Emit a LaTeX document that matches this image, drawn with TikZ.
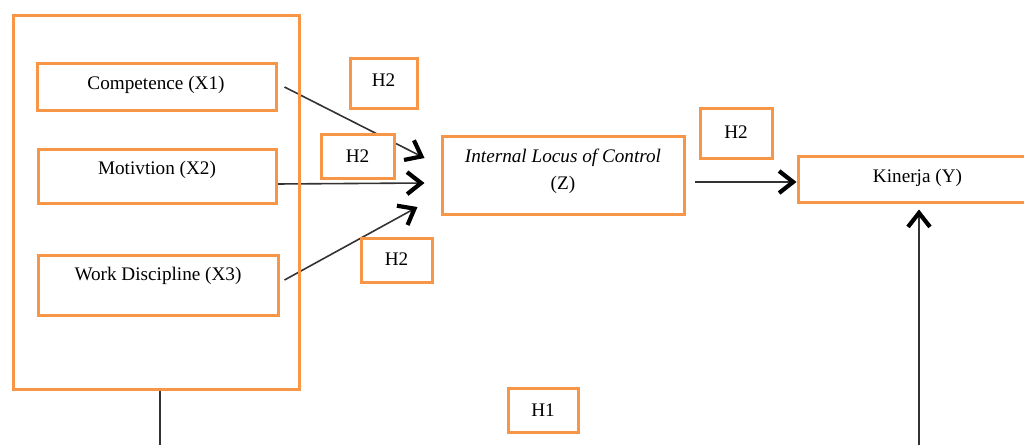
\documentclass[tikz,border=0pt]{standalone}
\usepackage{fontspec}
\setmainfont{Liberation Serif}
\usetikzlibrary{arrows.meta,calc}
\definecolor{boxorange}{HTML}{F79646}
\definecolor{linegray}{HTML}{333333}
\pgfdeclarelayer{bg}
\pgfsetlayers{bg,main}
\tikzset{
  obox/.style={draw=boxorange, line width=1.5pt, fill=white, inner sep=0pt},
  bigbox/.style={draw=boxorange, line width=1.5pt, inner sep=0pt},
  txt/.style={inner sep=0pt, font=\fontsize{9.6}{13.5}\selectfont, align=center},
  conn/.style={draw=linegray, line width=0.8pt,
    -{Straight Barb[length=7pt,width=11pt,line width=2.1pt,color=black]}},
  plain/.style={draw=linegray, line width=0.8pt}
}
\begin{document}
\begin{tikzpicture}[x=0.5pt,y=-0.5pt]
\useasboundingbox (0,0) rectangle (1024,445);
% boxes
\node[bigbox, minimum width=143pt, minimum height=187pt] (big) at (156,202) {};
\node[obox, minimum width=119.5pt, minimum height=23.5pt] (x1) at (156.5,86.5) {};
\node[txt] (x1t) at (156,85) {Competence (X1)};
\node[obox, minimum width=119pt, minimum height=27pt] (x2) at (157,176) {};
\node[txt] (x2t) at (157,170) {Motivtion (X2)};
\node[obox, minimum width=120pt, minimum height=30pt] (x3) at (158,285) {};
\node[txt] (x3t) at (158,276) {Work Discipline (X3)};
\node[obox, minimum width=33.5pt, minimum height=25pt] (h2a) at (383.5,83) {};
\node[txt] (h2at) at (383.5,80) {H2};
\node[obox, minimum width=36.5pt, minimum height=22pt] (h2b) at (357.5,156) {};
\node[txt] (h2bt) at (357.5,156) {H2};
\node[obox, minimum width=35.5pt, minimum height=22pt] (h2c) at (396.5,260) {};
\node[txt] (h2ct) at (396.5,259) {H2};
\node[obox, minimum width=121pt, minimum height=39pt] (z) at (563,175) {};
\node[txt] (zt) at (563,171) {\itshape Internal Locus of Control\\(Z)};
\node[obox, minimum width=36pt, minimum height=25pt] (h2d) at (736,133) {};
\node[txt] (h2dt) at (736,132) {H2};
\node[obox, minimum width=119.5pt, minimum height=23pt] (kin) at (917.5,179) {};
\node[txt] (kint) at (917.5,178) {Kinerja (Y)};
\node[obox, minimum width=35pt, minimum height=22pt] (h1) at (543,410) {};
\node[txt] (h1t) at (543,410) {H1};
% connector ends
\coordinate (x1o) at ($(x1.east)+(7,0.5)$);
\coordinate (x2o) at ($(x2.east)+(-1,8)$);
\coordinate (x3o) at ($(x3.east)+(5,-5)$);
\coordinate (zi1) at ($(z.west)+(-16,-17)$);
\coordinate (zi2) at ($(z.west)+(-16,8)$);
\coordinate (zi3) at ($(z.west)+(-23,32)$);
\coordinate (zo) at ($(z.east)+(9,7)$);
\coordinate (kini) at ($(kin.west)+(0,3)$);
\coordinate (kinb) at ($(kin.south)+(1.5,6)$);
\coordinate (bot1) at (919,445);
\coordinate (bigo) at ($(big.south)+(4,0)$);
\coordinate (bot2) at (160,445);
\begin{pgfonlayer}{bg}
\draw[conn] (x1o) -- (zi1);
\draw[conn] (x2o) -- (zi2);
\draw[conn] (x3o) -- (zi3);
\end{pgfonlayer}
\draw[conn] (zo) -- (kini);
\draw[conn] (bot1) -- (kinb);
\draw[plain] (bigo) -- (bot2);
\end{tikzpicture}
\end{document}
